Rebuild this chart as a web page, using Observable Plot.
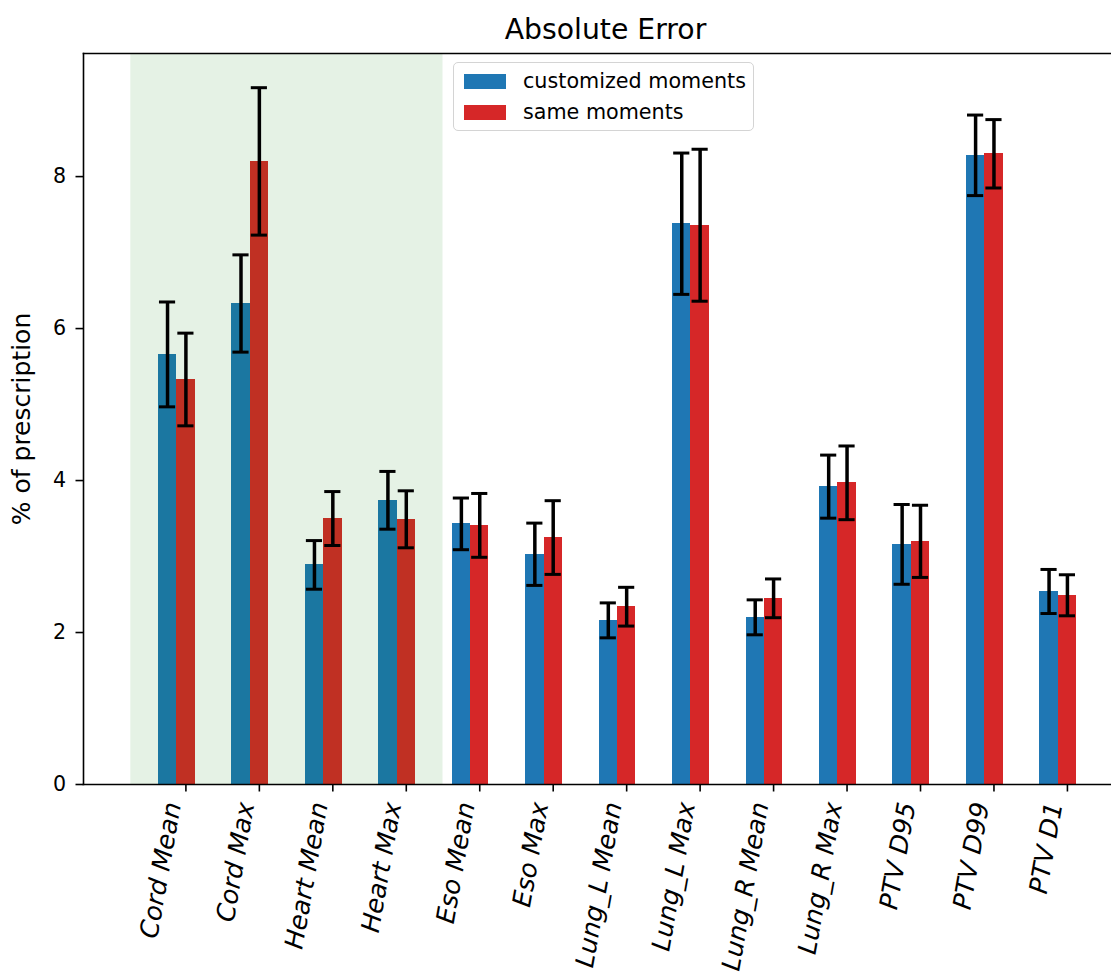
<!DOCTYPE html>
<html>
<head>
<meta charset="utf-8">
<script src="https://cdn.jsdelivr.net/npm/d3@7"></script>
<script src="https://cdn.jsdelivr.net/npm/@observablehq/plot@0.6"></script>
<style>
  body { margin: 0; background: #fff; font-family: "DejaVu Sans", sans-serif; }
  #wrap { position: relative; width: 1111px; height: 972px; overflow: hidden; }
  #legend { position: absolute; left: 453px; top: 62px; width: 299px; height: 67px;
    border: 1.5px solid #d4d4d4; border-radius: 5px; background: rgba(255,255,255,0.8);
    font-family: "DejaVu Sans", sans-serif; font-size: 20.7px; color: #000; }
  .item { position: absolute; left: 10px; height: 20px; display: flex; align-items: center; white-space: nowrap; }
  .patch { width: 42px; height: 15px; margin-right: 17px; }
</style>
</head>
<body>
<div id="wrap"></div>
<script>
const categories = ["Cord Mean", "Cord Max", "Heart Mean", "Heart Max", "Eso Mean", "Eso Max",
  "Lung_L Mean", "Lung_L Max", "Lung_R Mean", "Lung_R Max", "PTV D95", "PTV D99", "PTV D1"];
const customized = [5.66, 6.33, 2.89, 3.74, 3.43, 3.03, 2.16, 7.38, 2.20, 3.92, 3.16, 8.28, 2.54];
const customizedErr = [0.69, 0.64, 0.32, 0.38, 0.34, 0.41, 0.23, 0.93, 0.23, 0.415, 0.525, 0.53, 0.29];
const same = [5.33, 8.20, 3.50, 3.49, 3.41, 3.25, 2.34, 7.36, 2.45, 3.97, 3.20, 8.30, 2.49];
const sameErr = [0.61, 0.97, 0.355, 0.375, 0.42, 0.485, 0.255, 1.00, 0.255, 0.485, 0.475, 0.45, 0.27];
const seriesNames = ["customized moments", "same moments"];
const seriesColors = ["#1f77b4", "#d62728"];
const yTicks = [0, 2, 4, 6, 8];
const highlightSpan = [-0.5, 3.75];   // shaded groups (Cord, Heart)
const barWidth = 0.25;
const capHalf = 0.11;

const bars = [];
categories.forEach((c, i) => {
  bars.push({cat: c, series: seriesNames[0], x: i, v: customized[i], e: customizedErr[i]});
  bars.push({cat: c, series: seriesNames[1], x: i + barWidth, v: same[i], e: sameErr[i]});
});
const tickPos = categories.map((c, i) => i + barWidth);

const chart = Plot.plot({
  width: 1111,
  height: 972,
  marginLeft: 83,
  marginRight: 0,
  marginTop: 53,
  marginBottom: 188,
  style: {fontFamily: "DejaVu Sans, sans-serif", background: "white", color: "black"},
  x: {type: "linear", domain: [-1.144, 12.85], axis: null},
  y: {domain: [0, 9.62], axis: null},
  color: {domain: seriesNames, range: seriesColors},
  marks: [
    Plot.rectY(bars, {x1: d => d.x - barWidth / 2, x2: d => d.x + barWidth / 2, y: "v", fill: "series", shapeRendering: "crispEdges"}),
    Plot.rect([highlightSpan], {x1: d => d[0], x2: d => d[1], fill: "green", fillOpacity: 0.1}),
    Plot.ruleX(bars, {x: "x", y1: d => d.v - d.e, y2: d => d.v + d.e, stroke: "black", strokeWidth: 3.5}),
    Plot.ruleY(bars, {y: d => d.v + d.e, x1: d => d.x - capHalf, x2: d => d.x + capHalf, stroke: "black", strokeWidth: 3}),
    Plot.ruleY(bars, {y: d => d.v - d.e, x1: d => d.x - capHalf, x2: d => d.x + capHalf, stroke: "black", strokeWidth: 3}),
    Plot.frame({anchor: "left", strokeWidth: 1.6}),
    Plot.frame({anchor: "top", strokeWidth: 1.6}),
    Plot.frame({anchor: "bottom", strokeWidth: 1.6}),
    Plot.axisY({ticks: yTicks, tickSize: 7.5, tickPadding: 10, fontSize: 20.6, strokeWidth: 1.6, label: null}),
    Plot.axisX({ticks: tickPos, tickSize: 7.5, tickFormat: () => "", strokeWidth: 1.6, label: null}),
    Plot.text(categories, {x: (d, i) => tickPos[i], text: d => d, frameAnchor: "bottom", rotate: -80,
      textAnchor: "end", lineAnchor: "middle", fontSize: 25.5, fontStyle: "italic", dx: -13, dy: 18}),
    Plot.text(["% of prescription"], {frameAnchor: "left", rotate: -90, textAnchor: "middle", lineAnchor: "middle", dx: -62, fontSize: 25}),
    Plot.text(["Absolute Error"], {frameAnchor: "top", textAnchor: "middle", lineAnchor: "middle", dy: -24, dx: 8, fontSize: 28.3})
  ]
});
const wrap = document.getElementById("wrap");
wrap.appendChild(chart);

const legend = document.createElement("div");
legend.id = "legend";
seriesNames.forEach((name, k) => {
  const item = document.createElement("div");
  item.className = "item";
  item.style.top = (k === 0 ? 8 : 39) + "px";
  const patch = document.createElement("div");
  patch.className = "patch";
  patch.style.background = seriesColors[k];
  const label = document.createElement("span");
  label.textContent = name;
  item.appendChild(patch);
  item.appendChild(label);
  legend.appendChild(item);
});
wrap.appendChild(legend);
</script>
</body>
</html>
